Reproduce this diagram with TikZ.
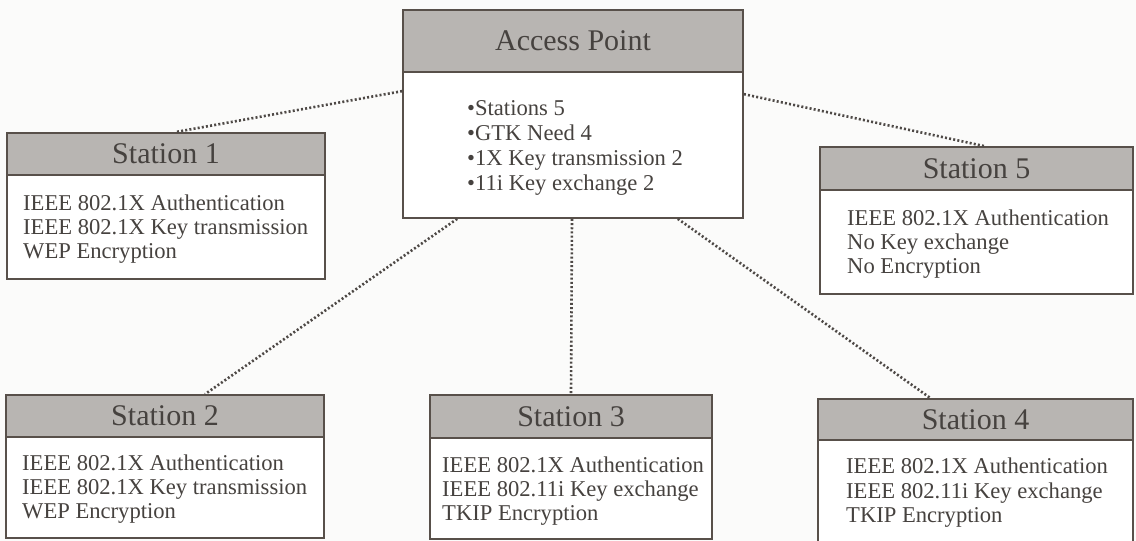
\documentclass[tikz,border=0pt]{standalone}
\usepackage{fontspec}
\setmainfont{Liberation Serif}
\usetikzlibrary{calc}
\definecolor{hdr}{HTML}{B8B5B2}
\definecolor{edge}{HTML}{58504A}
\definecolor{ink}{HTML}{46423F}
\definecolor{bg}{HTML}{FBFBFA}
\definecolor{dots}{HTML}{4E4946}
\newcommand{\ttlfont}{\fontsize{30}{31}\selectfont}
\newcommand{\txtfont}{\fontsize{22.6}{24}\selectfont}
\tikzset{
  hdrbox/.style={draw=edge, line width=1.7pt, fill=hdr, inner sep=0pt, text=ink, font=\ttlfont},
  bodybox/.style={draw=edge, line width=1.7pt, fill=white, inner sep=0pt},
  line/.style={anchor=base west, inner sep=0pt, text=ink, font=\txtfont},
  link/.style={draw=dots, line width=2.6pt, dash pattern=on 2pt off 2.2pt}
}
\begin{document}
\begin{tikzpicture}[x=1pt,y=-1pt]
\useasboundingbox (0,0) rectangle (1136,541);
\fill[bg] (0,0) rectangle (1136,541);

% Access point
\node[bodybox, minimum width=340pt, minimum height=146pt] (apb) at (573,145) {};
\node[hdrbox, minimum width=340pt, minimum height=62pt] (aph) at (573,41) {Access Point};
\node[line] (ap1) at (467,115) {\textbullet Stations 5};
\node[line] (ap2) at (467,140) {\textbullet GTK Need 4};
\node[line] (ap3) at (467,165) {\textbullet 1X Key transmission 2};
\node[line] (ap4) at (467,190) {\textbullet 11i Key exchange 2};

% Station 1
\node[bodybox, minimum width=318pt, minimum height=104pt] (b1) at (166,227) {};
\node[hdrbox, minimum width=318pt, minimum height=42pt] (h1) at (166,154) {Station 1};
\node[line] (s1a) at (23,210) {IEEE 802.1X Authentication};
\node[line] (s1b) at (23,234) {IEEE 802.1X Key transmission};
\node[line] (s1c) at (23,258) {WEP Encryption};

% Station 5
\node[bodybox, minimum width=313pt, minimum height=104pt] (b5) at (976.5,242) {};
\node[hdrbox, minimum width=313pt, minimum height=43pt] (h5) at (976.5,168.5) {Station 5};
\node[line] (s5a) at (847,225) {IEEE 802.1X Authentication};
\node[line] (s5b) at (847,249) {No Key exchange};
\node[line] (s5c) at (847,273) {No Encryption};

% Station 2
\node[bodybox, minimum width=318pt, minimum height=101pt] (b2) at (165,487.5) {};
\node[hdrbox, minimum width=318pt, minimum height=42pt] (h2) at (165,416) {Station 2};
\node[line] (s2a) at (22,470) {IEEE 802.1X Authentication};
\node[line] (s2b) at (22,494) {IEEE 802.1X Key transmission};
\node[line] (s2c) at (22,518) {WEP Encryption};

% Station 3
\node[bodybox, minimum width=282pt, minimum height=101pt] (b3) at (571,488.5) {};
\node[hdrbox, minimum width=282pt, minimum height=43pt] (h3) at (571,416.5) {Station 3};
\node[line] (s3a) at (442,472) {IEEE 802.1X Authentication};
\node[line] (s3b) at (442,496) {IEEE 802.11i Key exchange};
\node[line] (s3c) at (442,520) {TKIP Encryption};

% Station 4
\node[bodybox, minimum width=315pt, minimum height=104pt] (b4) at (975.5,492) {};
\node[hdrbox, minimum width=315pt, minimum height=41pt] (h4) at (975.5,419.5) {Station 4};
\node[line] (s4a) at (846,473) {IEEE 802.1X Authentication};
\node[line] (s4b) at (846,498) {IEEE 802.11i Key exchange};
\node[line] (s4c) at (846,522) {TKIP Encryption};

% dotted links
\draw[link] ($(apb.north west)+(0,20)$) -- ($(h1.north)+(9,0)$);
\draw[link] ($(apb.north east)+(0,23)$) -- ($(h5.north)+(8,0)$);
\draw[link] ($(apb.south west)+(55,0)$) -- ($(h2.north)+(40,0)$);
\draw[link] ($(apb.south)+(-1,0)$) -- (h3.north);
\draw[link] ($(apb.south east)+(-66,0)$) -- ($(h4.north)+(-45,0)$);
\end{tikzpicture}
\end{document}
